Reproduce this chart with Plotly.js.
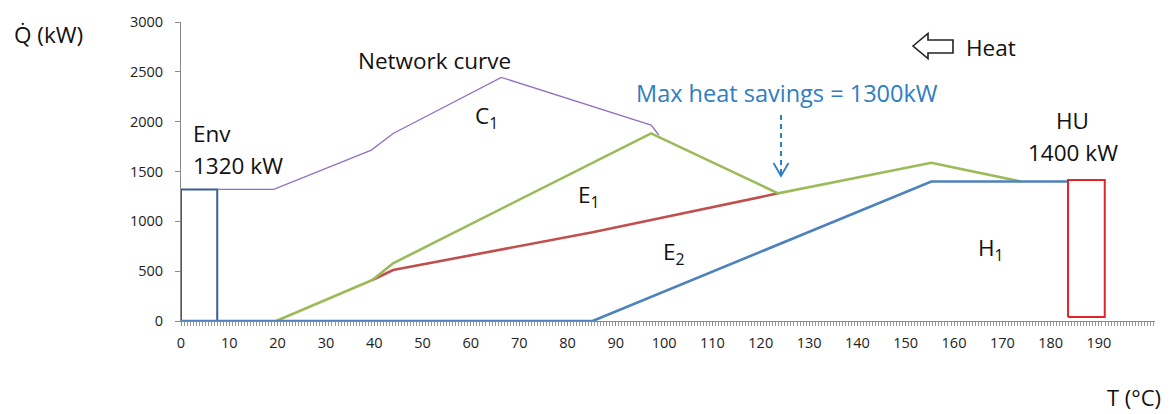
<!DOCTYPE html>
<html><head><meta charset="utf-8">
<script src="https://cdn.plot.ly/plotly-3.0.1.min.js"></script>
<style>html,body{margin:0;padding:0;background:#fff}</style>
</head><body>
<div id="chart" style="width:1170px;height:414px"></div>
<script>
// ---- data (T in °C, Q in kW) ----
const netT = [7.5, 19.2, 39.4, 43.9, 66.3, 97.3, 98.9];
const netQ = [1320, 1320, 1715, 1882, 2444, 1966, 1866];
const e1T = [19.7, 39.6, 43.9, 97.3, 123.6, 155.3, 173.8];
const e1Q = [0, 411, 579, 1883, 1281, 1588, 1400];
const e2T = [39.6, 43.9, 85.2, 123.6];
const e2Q = [411, 512, 890, 1281];
const h1T = [0, 85.2, 155.3, 183.6];
const h1Q = [0, 0, 1400, 1400];
const envT = [0, 7.5];
const envQ = [0, 1320];
const huT = [183.6, 191.2];
const huQ = [40, 1415];
const xTicks = [0,10,20,30,40,50,60,70,80,90,100,110,120,130,140,150,160,170,180,190];
const yTicks = [0,500,1000,1500,2000,2500,3000];

function box(t, q){ return {x:[t[0],t[0],t[1],t[1],t[0]], y:[q[0],q[1],q[1],q[0],q[0]]}; }
const envB = box(envT, envQ), huB = box(huT, huQ);

const FONT = 'Open Sans, Lato, sans-serif';
const traces = [
  {x:envB.x, y:envB.y, mode:'lines', line:{color:'#3A5F8C', width:2}},
  {x:netT, y:netQ, mode:'lines', line:{color:'#9370C2', width:1.3}},
  {x:e2T, y:e2Q, mode:'lines', line:{color:'#C0504D', width:2.6}},
  {x:e1T, y:e1Q, mode:'lines', line:{color:'#9BBB59', width:2.6}},
  {x:h1T, y:h1Q, mode:'lines', line:{color:'#4F81BD', width:2.6}},
  {x:huB.x, y:huB.y, mode:'lines', line:{color:'#E0242C', width:2}}
];

// pixel -> paper helpers (plot area: x 181..1155, y 22..321)
const L=181, W=974, T0=22, H=299;
const px = v => (v-L)/W;
const py = v => (T0+H-v)/H;

function lab(text, x, y, opts){
  return Object.assign({text:text, x:px(x), y:py(y), xref:'paper', yref:'paper',
    showarrow:false, xanchor:'center', yanchor:'middle',
    font:{family:FONT, size:22.5, color:'#111'}}, opts||{});
}
const annotations = [
  lab('Q\u0307 (kW)', 12, 35, {xanchor:'left'}),
  lab('T (°C)', 1163, 397, {xanchor:'right', font:{family:FONT, size:22, color:'#111'}}),
  lab('Network curve', 434, 60),
  lab('C<sub>1</sub>', 486, 117),
  lab('Env', 191, 133, {xanchor:'left'}),
  lab('1320 kW', 191, 165, {xanchor:'left'}),
  lab('E<sub>1</sub>', 576, 196, {xanchor:'left'}),
  lab('E<sub>2</sub>', 661, 253, {xanchor:'left'}),
  lab('H<sub>1</sub>', 976, 249, {xanchor:'left'}),
  lab('HU', 1072, 120),
  lab('1400 kW', 1073, 152),
  lab('Heat', 964, 47, {xanchor:'left'}),
  lab('Max heat savings = 1300kW', 787, 93, {font:{family:FONT, size:23.5, color:'#2F7DC2'}})
];

function P(x,y){ return px(x).toFixed(5)+','+py(y).toFixed(5); }
const shapes = [
  // outlined left arrow next to "Heat"
  {type:'path', xref:'paper', yref:'paper',
   path:'M'+P(913,46)+' L'+P(928,33.5)+' L'+P(928,40)+' L'+P(953,40)+' L'+P(953,53)+' L'+P(928,53)+' L'+P(928,58.5)+' Z',
   line:{color:'#222', width:1.6}, fillcolor:'rgba(0,0,0,0)'},
  // dashed arrow for max heat savings
  {type:'line', xref:'paper', yref:'paper', x0:px(781), x1:px(781), y0:py(115), y1:py(174),
   line:{color:'#2F7DC2', width:2, dash:'5px,4px'}},
  {type:'path', xref:'paper', yref:'paper',
   path:'M'+P(773.5,163)+' L'+P(781,176)+' L'+P(788.5,163),
   line:{color:'#2F7DC2', width:1.8}}
];

const layout = {
  width:1170, height:414,
  margin:{l:181, r:15, t:22, b:93},
  paper_bgcolor:'#fff', plot_bgcolor:'#fff',
  showlegend:false, hovermode:false,
  font:{family:FONT, size:14, color:'#222'},
  xaxis:{range:[0,201.6], tickmode:'array', tickvals:xTicks, ticktext:xTicks.map(String),
    showgrid:false, zeroline:false, showline:true, linecolor:'#8a8a8a', linewidth:1,
    ticks:'outside', ticklen:4, tickcolor:'#8a8a8a', ticklabelstandoff:5,
    tickfont:{family:FONT, size:14.5, color:'#222'},
    minor:{dtick:0.625, tick0:0, ticks:'outside', ticklen:4, tickcolor:'#9a9a9a', showgrid:false}},
  yaxis:{range:[0,3000], tickmode:'array', tickvals:yTicks, ticktext:yTicks.map(String),
    showgrid:false, zeroline:false, showline:true, linecolor:'#8a8a8a', linewidth:1,
    ticks:'outside', ticklen:5, tickcolor:'#8a8a8a', ticklabelstandoff:9,
    tickfont:{family:FONT, size:14.5, color:'#222'}},
  annotations:annotations, shapes:shapes
};
Plotly.newPlot('chart', traces, layout, {displayModeBar:false, staticPlot:true});
</script>
</body></html>
